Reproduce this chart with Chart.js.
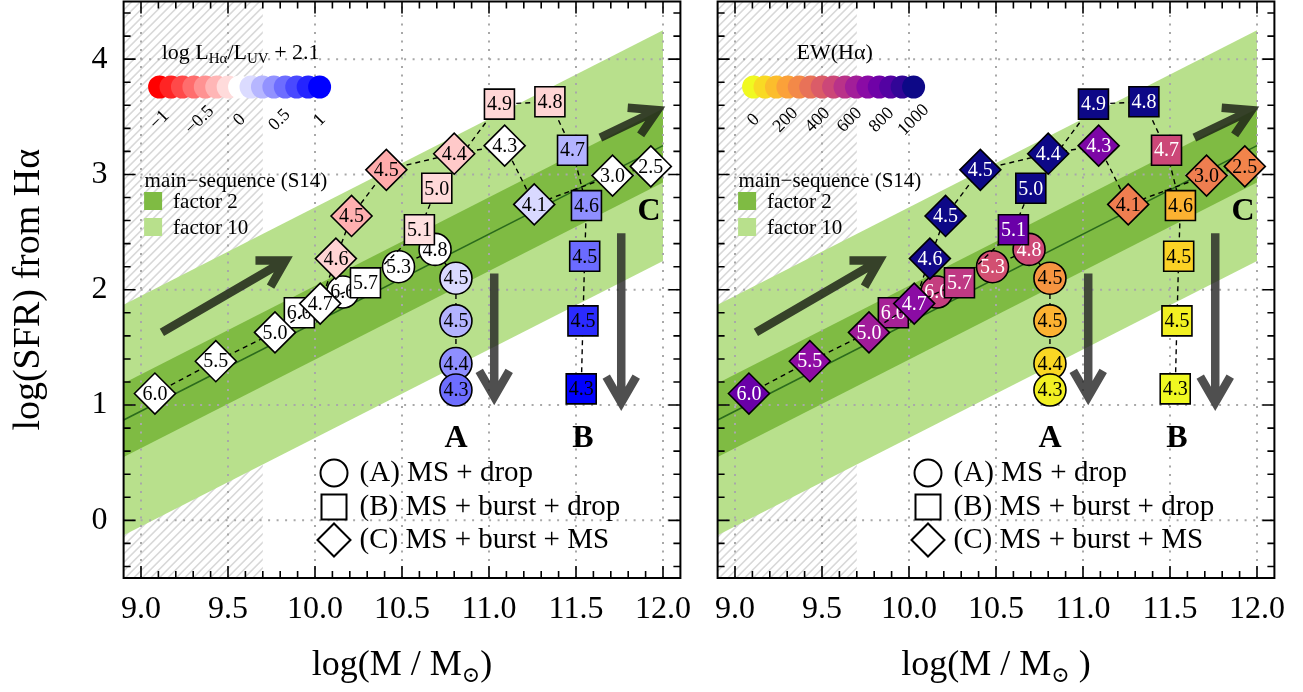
<!DOCTYPE html>
<html>
<head>
<meta charset="utf-8">
<script src="https://cdn.jsdelivr.net/npm/chart.js@4/dist/chart.umd.min.js"></script>
<style>
  body { margin: 0; background: #fff; }
  #left { position: absolute; left: 0; top: 0; width: 700px; height: 692px; }
  #right { position: absolute; left: 700px; top: 0; width: 603px; height: 692px; }
</style>
</head>
<body>
<div id="left"><canvas id="c1"></canvas></div>
<div id="right"><canvas id="c2"></canvas></div>
<script>
const FONT = "'Liberation Serif', 'DejaVu Serif', serif"

// axes
const X_MIN = 8.9, X_MAX = 12.1
const Y_MIN = -0.5, Y_MAX = 4.5
const X_TICKS = [9.0, 9.5, 10.0, 10.5, 11.0, 11.5, 12.0]
const Y_TICKS = [0, 1, 2, 3, 4]

// main sequence (S14): ridge line read at the panel edge and at 12.0
const MS_MASS = [8.9, 12.0]
const MS_SFR = [0.87, 3.25]
const MS_FACTOR2 = 0.32
const MS_FACTOR10 = 1.0
const HATCH_MASS = [8.9, 9.7]

// (A) MS + drop  -> circles
const A_MASS = [10.16, 10.48, 10.69, 10.81, 10.81, 10.81, 10.81]
const A_SFR = [1.98, 2.20, 2.35, 2.10, 1.73, 1.36, 1.13]
const A_TEXT = ['6.0', '5.3', '4.8', '4.5', '4.5', '4.4', '4.3']
const A_RATIO = [0, 0, 0, 0.15, 0.3, 0.44, 0.57]
const A_EW = [530, 470, 490, 250, 170, 80, 20]

// (B) MS + burst + drop -> squares
const B_MASS = [9.91, 10.29, 10.60, 10.70, 11.06, 11.35, 11.48, 11.56, 11.55, 11.54, 11.53]
const B_SFR = [1.80, 2.06, 2.52, 2.88, 3.61, 3.63, 3.21, 2.73, 2.29, 1.73, 1.14]
const B_TEXT = ['6.0', '5.7', '5.1', '5.0', '4.9', '4.8', '4.7', '4.6', '4.5', '4.5', '4.3']
const B_RATIO = [0, 0, -0.12, -0.15, -0.16, -0.17, 0.3, 0.44, 0.58, 0.83, 1.0]
const B_EW = [630, 550, 800, 1000, 1000, 1000, 500, 170, 90, 20, 0]

// (C) MS + burst + MS -> diamonds
const C_MASS = [9.08, 9.43, 9.77, 10.03, 10.12, 10.21, 10.41, 10.80, 11.09, 11.26, 11.71, 11.93]
const C_SFR = [1.10, 1.38, 1.63, 1.88, 2.27, 2.64, 3.04, 3.18, 3.25, 2.74, 2.99, 3.07]
const C_TEXT = ['6.0', '5.5', '5.0', '4.7', '4.6', '4.5', '4.5', '4.4', '4.3', '4.1', '3.0', '2.5']
const C_RATIO = [0, 0, 0, 0, -0.17, -0.31, -0.33, -0.21, 0, 0.15, 0, 0]
const C_EW = [800, 700, 650, 710, 990, 1000, 1000, 1000, 750, 320, 320, 300]

// arrows (first two along the sequence, last two the drops)
const ARROW_FROM_MASS = [9.12, 11.64, 11.03, 11.76]
const ARROW_FROM_SFR = [1.63, 3.32, 2.14, 2.49]
const ARROW_TO_MASS = [9.86, 12.0, 11.03, 11.76]
const ARROW_TO_SFR = [2.28, 3.58, 1.02, 0.97]

const CASE_NAMES = ['A', 'B', 'C']
const CASE_MASS = [10.81, 11.54, 11.92]
const CASE_SFR = [0.71, 0.71, 2.68]

const LEGEND_TEXT = ['(A) MS + drop', '(B) MS + burst + drop', '(C) MS + burst + MS']

const RATIO_TICKS = [-1, -0.5, 0, 0.5, 1]
const EW_TICKS = [0, 200, 400, 600, 800, 1000]

const PLASMA = ['#0d0887', '#41049d', '#6a00a8', '#8f0da4', '#b12a90', '#cc4778',
    '#e16462', '#f2844b', '#fca636', '#fcce25', '#f0f921']

const clamp = (v, a, b) => Math.max(a, Math.min(b, v))
const hexRgb = h => [1, 3, 5].map(i => parseInt(h.slice(i, i + 2), 16))
const rgbStr = c => `rgb(${c.map(Math.round).join(',')})`

function bwr(v) {
    v = clamp(v, -1, 1)
    if (v < 0) { const c = 255 * (1 + v); return [255, c, c] }
    const c = 255 * (1 - v)
    return [c, c, 255]
}

function plasmaR(ew) {
    const p = (1 - clamp(ew / 1000, 0, 1)) * 10
    const i = Math.min(9, Math.floor(p))
    const a = hexRgb(PLASMA[i]), b = hexRgb(PLASMA[i + 1]), t = p - i
    return a.map((c, k) => c + (b[k] - c) * t)
}

const PANELS = {
    c1: {
        colorOf: bwr, values: [A_RATIO, B_RATIO, C_RATIO], yWidth: 123.6, padRight: 19.6, yTitle: true,
        cbTitle: [['log L', 22, 0], ['Hα', 15, 4], ['/L', 22, 0], ['UV', 15, 4], [' + 2.1', 22, 0]],
        cbRange: [-1, 1], cbTicks: RATIO_TICKS, cbFormat: v => String(v).replace('-', '−'),
        xTitle: [['log(M / M', 36, 0], ['⊙', 22, 7], [')', 36, 0]],
        textColor: () => '#000'
    },
    c2: {
        colorOf: plasmaR, values: [A_EW, B_EW, C_EW], yWidth: 17.6, padRight: 28.6, yTitle: false,
        cbTitle: [['EW(Hα)', 22, 0]],
        cbRange: [0, 1000], cbTicks: EW_TICKS, cbFormat: v => String(v),
        xTitle: [['log(M / M', 36, 0], ['⊙', 22, 7], [' )', 36, 0]],
        textColor: c => (0.299 * c[0] + 0.587 * c[1] + 0.114 * c[2]) < 140 ? '#fff' : '#000'
    }
}

function richText(ctx, parts, x, y, align) {
    let w = 0
    parts.forEach(p => { ctx.font = `${p[1]}px ${FONT}`; w += ctx.measureText(p[0]).width })
    let cx = align === 'center' ? x - w / 2 : x
    ctx.textAlign = 'left'
    ctx.textBaseline = 'alphabetic'
    parts.forEach(p => {
        ctx.font = `${p[1]}px ${FONT}`
        ctx.fillText(p[0], cx, y + p[2])
        cx += ctx.measureText(p[0]).width
    })
}

function drawArrow(ctx, x0, y0, x1, y1, color) {
    const ang = Math.atan2(y1 - y0, x1 - x0)
    const tx = x1 - 6 * Math.cos(ang), ty = y1 - 6 * Math.sin(ang)
    const L = 30, s = Math.PI / 6
    ctx.save()
    ctx.strokeStyle = color
    ctx.lineWidth = 8.5
    ctx.lineJoin = 'miter'
    ctx.beginPath()
    ctx.moveTo(x0, y0)
    ctx.lineTo(tx, ty)
    ctx.moveTo(tx + L * Math.cos(ang + Math.PI - s), ty + L * Math.sin(ang + Math.PI - s))
    ctx.lineTo(tx, ty)
    ctx.lineTo(tx + L * Math.cos(ang + Math.PI + s), ty + L * Math.sin(ang + Math.PI + s))
    ctx.stroke()
    ctx.restore()
}

function shape(ctx, kind, x, y, r) {
    ctx.beginPath()
    if (kind === 'circle') ctx.arc(x, y, r, 0, Math.PI * 2)
    else if (kind === 'rect') ctx.rect(x - r, y - r, 2 * r, 2 * r)
    else { ctx.moveTo(x - r, y); ctx.lineTo(x, y - r); ctx.lineTo(x + r, y); ctx.lineTo(x, y + r); ctx.closePath() }
}

function drawGrid(chart) {
    const { ctx, chartArea: a, scales: { x, y } } = chart
    ctx.save()
    ctx.strokeStyle = '#a8a8a8'
    ctx.lineWidth = 2
    ctx.setLineDash([2, 6.5])
    ctx.beginPath()
    X_TICKS.forEach(v => { const px = x.getPixelForValue(v); ctx.moveTo(px, a.bottom); ctx.lineTo(px, a.top) })
    Y_TICKS.forEach(v => { const py = y.getPixelForValue(v); ctx.moveTo(a.left, py); ctx.lineTo(a.right, py) })
    ctx.stroke()
    ctx.restore()
}

function drawFrame(chart) {
    const { ctx, chartArea: a, scales: { x, y } } = chart
    ctx.save()
    ctx.strokeStyle = '#000'
    ctx.lineWidth = 1.6
    ctx.beginPath()
    for (let i = 90; i <= 120; i++) {
        const v = i / 10, px = x.getPixelForValue(v)
        const len = i % 5 === 0 ? 12 : 7
        ctx.moveTo(px, a.bottom); ctx.lineTo(px, a.bottom - len)
        ctx.moveTo(px, a.top); ctx.lineTo(px, a.top + len)
    }
    for (let i = -2; i <= 22; i++) {
        const v = i / 5, py = y.getPixelForValue(v)
        const len = i % 5 === 0 ? 12 : 7
        ctx.moveTo(a.left, py); ctx.lineTo(a.left + len, py)
        ctx.moveTo(a.right, py); ctx.lineTo(a.right - len, py)
    }
    ctx.stroke()
    ctx.lineWidth = 2
    ctx.strokeRect(a.left, a.top, a.right - a.left, a.bottom - a.top)
    ctx.restore()
}

const decor = {
    id: 'decor',
    beforeDatasetsDraw(chart) {
        const { ctx, chartArea: a, scales: { x } } = chart
        const x0 = x.getPixelForValue(HATCH_MASS[0]), x1 = x.getPixelForValue(HATCH_MASS[1])
        const h = a.bottom - a.top
        ctx.save()
        ctx.beginPath()
        ctx.rect(x0, a.top, x1 - x0, h)
        ctx.clip()
        ctx.strokeStyle = '#d8d8d8'
        ctx.lineWidth = 1.6
        ctx.beginPath()
        for (let k = x0 - h; k < x1; k += 8.5) { ctx.moveTo(k, a.bottom); ctx.lineTo(k + h, a.top) }
        ctx.stroke()
        ctx.restore()
    },
    afterDatasetDraw(chart, args) {
        const ds = chart.data.datasets[args.index]
        const p = PANELS[chart.canvas.id]
        if (ds.role === 'ms') drawGrid(chart)
        if (ds.texts) {
            const ctx = chart.ctx
            ctx.save()
            ctx.font = `20px ${FONT}`
            ctx.textAlign = 'center'
            ctx.textBaseline = 'middle'
            args.meta.data.forEach((pt, i) => {
                ctx.fillStyle = p.textColor(ds.fills[i])
                ctx.fillText(ds.texts[i], pt.x, pt.y + 1)
            })
            ctx.restore()
        }
    },
    afterDatasetsDraw(chart) {
        const p = PANELS[chart.canvas.id]
        const { ctx, chartArea: a, scales: { x, y } } = chart
        for (let i = 0; i < ARROW_FROM_MASS.length; i++) {
            drawArrow(ctx, x.getPixelForValue(ARROW_FROM_MASS[i]), y.getPixelForValue(ARROW_FROM_SFR[i]),
                x.getPixelForValue(ARROW_TO_MASS[i]), y.getPixelForValue(ARROW_TO_SFR[i]),
                i < 2 ? 'rgba(30,36,24,0.85)' : 'rgba(35,35,35,0.8)')
        }
        ctx.save()
        ctx.fillStyle = '#000'
        ctx.font = `bold 32px ${FONT}`
        ctx.textAlign = 'center'
        ctx.textBaseline = 'middle'
        CASE_NAMES.forEach((n, i) => ctx.fillText(n, x.getPixelForValue(CASE_MASS[i]), y.getPixelForValue(CASE_SFR[i])))

        // model legend
        const kinds = ['circle', 'rect', 'rectRot'], sizes = [13.5, 12.5, 16.5], rows = [473, 507, 540]
        ctx.lineWidth = 2
        ctx.strokeStyle = '#000'
        kinds.forEach((k, i) => {
            shape(ctx, k, a.left + 210.4, rows[i], sizes[i])
            ctx.fillStyle = '#fff'; ctx.fill(); ctx.stroke()
            ctx.fillStyle = '#000'
            ctx.font = `29px ${FONT}`
            ctx.textAlign = 'left'
            ctx.textBaseline = 'middle'
            ctx.fillText(LEGEND_TEXT[i], a.left + 236, rows[i])
        })

        // colour bar of dots
        const [lo, hi] = p.cbRange
        const n = 15, cx0 = a.left + 36, cx1 = a.left + 196
        for (let i = 0; i < n; i++) {
            const v = lo + (hi - lo) * i / (n - 1)
            ctx.beginPath()
            ctx.arc(cx0 + (cx1 - cx0) * i / (n - 1), 87, 11.5, 0, Math.PI * 2)
            ctx.fillStyle = rgbStr(p.colorOf(v))
            ctx.fill()
        }
        ctx.fillStyle = '#000'
        richText(ctx, p.cbTitle, a.left + 117, 59, 'center')
        ctx.font = `18px ${FONT}`
        ctx.textAlign = 'center'
        ctx.textBaseline = 'middle'
        p.cbTicks.forEach(v => {
            const px = cx0 + (cx1 - cx0) * (v - lo) / (hi - lo)
            ctx.save()
            ctx.translate(px, 120)
            ctx.rotate(-Math.PI / 4)
            ctx.fillText(p.cbFormat(v), 0, 0)
            ctx.restore()
        })

        // main-sequence legend
        ctx.font = `21px ${FONT}`
        ctx.textAlign = 'left'
        ctx.fillText('main−sequence (S14)', a.left + 21, 181)
        ctx.fillStyle = '#7fbb43'
        ctx.fillRect(a.left + 20.5, 192, 18, 18)
        ctx.fillStyle = '#b8e08c'
        ctx.fillRect(a.left + 20.5, 218, 18, 18)
        ctx.fillStyle = '#000'
        ctx.fillText('factor 2', a.left + 49.5, 202)
        ctx.fillText('factor 10', a.left + 49.5, 228)
        ctx.restore()

        drawFrame(chart)

        ctx.save()
        ctx.fillStyle = '#000'
        richText(ctx, p.xTitle, (a.left + a.right) / 2, 675, 'center')
        if (p.yTitle) {
            ctx.translate(39, (a.top + a.bottom) / 2)
            ctx.rotate(-Math.PI / 2)
            ctx.font = `38px ${FONT}`
            ctx.textAlign = 'center'
            ctx.textBaseline = 'alphabetic'
            ctx.fillText('log(SFR) from Hα', 0, 0)
        }
        ctx.restore()
    }
}

function seriesDataset(mass, sfr, texts, values, p, style, radius, order) {
    const fills = values.map(v => p.colorOf(v))
    return {
        data: mass.map((m, i) => ({ x: m, y: sfr[i] })),
        texts, fills,
        pointStyle: style, pointRadius: radius, pointHoverRadius: radius,
        pointBackgroundColor: fills.map(rgbStr),
        pointBorderColor: '#000', pointBorderWidth: 1.6,
        borderColor: '#000', borderWidth: 1.4, borderDash: [5, 4],
        fill: false, tension: 0, order
    }
}

function bandLine(offset, extra) {
    return Object.assign({
        data: MS_MASS.map((m, i) => ({ x: m, y: MS_SFR[i] + offset })),
        pointRadius: 0, borderWidth: 1, borderColor: 'rgba(0,0,0,0)', fill: false, tension: 0
    }, extra)
}

function makeChart(id) {
    const p = PANELS[id]
    const [aVals, bVals, cVals] = p.values
    new Chart(document.getElementById(id), {
        type: 'line',
        data: {
            datasets: [
                seriesDataset(C_MASS, C_SFR, C_TEXT, cVals, p, 'rectRot', 20.5, 1),
                seriesDataset(B_MASS, B_SFR, B_TEXT, bVals, p, 'rect', 21.2, 2),
                seriesDataset(A_MASS, A_SFR, A_TEXT, aVals, p, 'circle', 16, 3),
                bandLine(0, { role: 'ms', borderColor: '#2b6a1c', borderWidth: 1.6, order: 4 }),
                bandLine(MS_FACTOR2, { fill: '+1', backgroundColor: '#7fbb43', order: 5 }),
                bandLine(-MS_FACTOR2, { order: 5 }),
                bandLine(MS_FACTOR10, { fill: '+1', backgroundColor: '#b8e08c', order: 6 }),
                bandLine(-MS_FACTOR10, { order: 6 })
            ]
        },
        options: {
            responsive: true,
            maintainAspectRatio: false,
            animation: false,
            devicePixelRatio: 1,
            events: [],
            layout: { autoPadding: false, padding: { top: 1.5, right: p.padRight, bottom: 0, left: 0 } },
            plugins: { legend: { display: false }, tooltip: { enabled: false } },
            scales: {
                x: {
                    type: 'linear', min: X_MIN, max: X_MAX,
                    afterBuildTicks: s => { s.ticks = X_TICKS.map(v => ({ value: v })) },
                    afterFit: s => { s.height = 114; s.paddingLeft = 0; s.paddingRight = 0 },
                    ticks: {
                        callback: v => v.toFixed(1), font: { family: FONT, size: 32 }, color: '#000',
                        padding: 12, maxRotation: 0, autoSkip: false
                    },
                    grid: { display: false, drawTicks: false },
                    border: { display: false }
                },
                y: {
                    type: 'linear', min: Y_MIN, max: Y_MAX,
                    afterBuildTicks: s => { s.ticks = Y_TICKS.map(v => ({ value: v })) },
                    afterFit: s => { s.width = p.yWidth; s.paddingTop = 0; s.paddingBottom = 0 },
                    ticks: {
                        display: p.yTitle, callback: v => String(v), font: { family: FONT, size: 32 },
                        color: '#000', padding: 16
                    },
                    grid: { display: false, drawTicks: false },
                    border: { display: false }
                }
            }
        },
        plugins: [decor]
    })
}

makeChart('c1')
makeChart('c2')
</script>
</body>
</html>
